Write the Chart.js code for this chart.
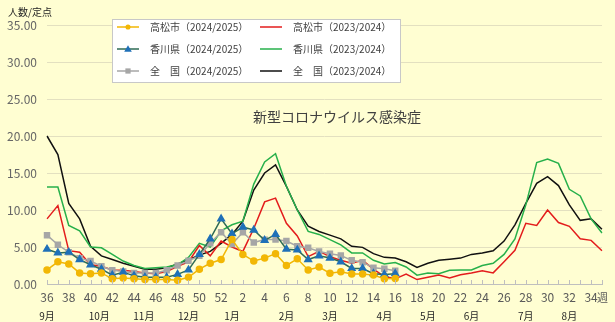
<!DOCTYPE html>
<html lang="ja">
<head>
<meta charset="utf-8">
<script src="https://cdn.jsdelivr.net/npm/chart.js@4.4.1/dist/chart.umd.min.js"></script>
<style>
  html, body { margin: 0; padding: 0; background: #fffed2; }
  #wrap { position: relative; width: 615px; height: 322px; }
</style>
</head>
<body>
<div id="wrap"><canvas id="chart-corona" width="615" height="322"></canvas></div>
<script>
// 週番号 (36週 ~ 翌年35週)
const weeks = [36, 37, 38, 39, 40, 41, 42, 43, 44, 45, 46, 47, 48, 49, 50, 51, 52,
  1, 2, 3, 4, 5, 6, 7, 8, 9, 10, 11, 12, 13, 14, 15, 16, 17, 18, 19, 20, 21, 22, 23, 24, 25,
  26, 27, 28, 29, 30, 31, 32, 33, 34, 35];

// 月ラベルと、その位置 (週のインデックス)
const months = ['9月', '10月', '11月', '12月', '1月', '2月', '3月', '4月', '5月', '6月', '7月', '8月'];
const monthPos = [0, 4.8, 8.9, 13, 17, 22, 26, 31, 35, 39, 44, 48];

const yTicks = [0, 5, 10, 15, 20, 25, 30, 35];

// 2024/2025 シーズン (16週まで)
const takamatsu2425 = [1.9, 3.0, 2.7, 1.5, 1.4, 1.5, 0.7, 0.8, 0.7, 0.6, 0.6, 0.6, 0.5, 0.9, 2.0, 2.8, 3.3,
  6.0, 4.0, 3.1, 3.5, 4.1, 2.5, 3.4, 1.9, 2.3, 1.45, 1.65, 1.35, 1.35, 1.2, 0.7, 0.75];
const kagawa2425 = [4.7, 4.2, 4.3, 3.3, 2.6, 2.0, 1.2, 1.6, 1.1, 0.9, 0.9, 0.9, 1.3, 1.9, 4.0, 6.1, 8.8,
  6.8, 7.7, 7.3, 5.9, 6.7, 4.7, 4.6, 3.3, 3.8, 3.5, 3.0, 2.1, 2.1, 1.4, 1.3, 1.4];
const zenkoku2425 = [6.6, 5.3, 4.3, 3.5, 3.1, 2.4, 1.85, 1.7, 1.5, 1.5, 1.5, 1.85, 2.5, 3.15, 3.8, 5.5, 7.0,
  5.4, 7.0, 5.6, 6.0, 6.0, 5.8, 5.1, 4.9, 4.4, 4.1, 3.85, 3.2, 2.95, 2.2, 2.05, 1.8];

// 2023/2024 シーズン
const takamatsu2324 = [8.8, 10.6, 4.5, 4.3, 2.6, 2.4, 1.9, 1.85, 1.7, 1.5, 1.4, 1.7, 2.4, 3.0, 5.2, 3.8, 5.8,
  5.0, 4.4, 7.5, 11.1, 11.6, 8.2, 6.5, 3.7, 4.4, 3.7, 3.2, 2.8, 3.2, 2.0, 1.0, 0.7, 1.35, 0.6, 0.9,
  1.2, 0.8, 1.25, 1.5, 1.8, 1.5, 3.0, 4.55, 8.2, 7.9, 10.0, 8.3, 7.8, 6.1, 5.9, 4.5];
const kagawa2324 = [13.1, 13.1, 7.9, 7.2, 5.0, 4.9, 4.0, 3.1, 2.5, 2.1, 2.2, 2.3, 2.6, 3.6, 5.5, 5.0, 7.2,
  8.0, 8.5, 13.5, 16.5, 17.6, 13.2, 10.0, 7.1, 6.7, 6.0, 5.3, 4.2, 4.2, 3.2, 2.7, 2.9, 2.3, 1.2, 1.5,
  1.4, 1.85, 1.9, 1.9, 2.5, 2.8, 4.0, 6.1, 10.7, 16.4, 16.9, 16.3, 12.8, 11.9, 8.8, 6.9];
const zenkoku2324 = [20.0, 17.5, 10.9, 8.8, 5.1, 3.8, 3.3, 2.8, 2.4, 2.0, 2.0, 2.2, 2.7, 3.3, 3.9, 4.4, 5.5,
  6.7, 8.5, 12.7, 15.0, 16.1, 13.2, 10.0, 7.8, 7.1, 6.6, 6.1, 5.1, 4.95, 4.1, 3.6, 3.5, 3.0, 2.25, 2.8,
  3.2, 3.35, 3.5, 4.0, 4.2, 4.5, 5.8, 8.0, 10.9, 13.6, 14.5, 13.3, 10.7, 8.6, 8.8, 7.4];

const FONT = '"Noto Sans CJK JP", "Noto Sans", sans-serif';

// 凡例・タイトル・月ラベルなどをキャンバスに直接描く
const decorPlugin = {
  id: 'decor',
  afterDraw(chart) {
    const ctx = chart.ctx;
    const x = chart.scales.x;
    const y = chart.scales.y;
    const bottom = y.getPixelForValue(0);
    ctx.save();

    // 内向きの目盛り
    ctx.strokeStyle = '#bfbfbf';
    ctx.lineWidth = 1;
    weeks.forEach((w, i) => {
      const px = Math.round(x.getPixelForValue(i)) + 0.5;
      ctx.beginPath();
      ctx.moveTo(px, bottom);
      ctx.lineTo(px, bottom - 4);
      ctx.stroke();
    });

    // 週の単位
    ctx.fillStyle = '#595959';
    ctx.font = '11px ' + FONT;
    ctx.textAlign = 'left';
    ctx.textBaseline = 'middle';
    ctx.fillText('週', x.getPixelForValue(50) + 6, 298);

    // 月ラベル
    ctx.fillStyle = '#262626';
    ctx.font = '10px ' + FONT;
    ctx.textAlign = 'center';
    months.forEach((m, i) => {
      ctx.fillText(m, x.getPixelForValue(monthPos[i]), 316);
    });

    // 縦軸の単位
    ctx.textAlign = 'left';
    ctx.fillStyle = '#262626';
    ctx.fillText('人数/定点', 8, 12);

    // タイトル
    ctx.textAlign = 'center';
    ctx.fillStyle = '#404040';
    ctx.font = '14px ' + FONT;
    ctx.fillText('新型コロナウイルス感染症', 337, 117);

    // 凡例
    const bx = 112, by = 19, bw = 288, bh = 63;
    ctx.fillStyle = '#ffffff';
    ctx.fillRect(bx, by, bw, bh);
    ctx.strokeStyle = '#c8c8c8';
    ctx.strokeRect(bx + 0.5, by + 0.5, bw, bh);
    ctx.font = '10px ' + FONT;
    ctx.textAlign = 'left';
    chart.data.datasets.forEach((ds, i) => {
      const col = Math.floor(i / 3);
      const row = i % 3;
      const lx = col === 0 ? 117 : 260;
      const ly = 27 + row * 22;
      ctx.strokeStyle = ds.borderColor;
      ctx.lineWidth = 1.5;
      ctx.beginPath();
      ctx.moveTo(lx, ly);
      ctx.lineTo(lx + 22, ly);
      ctx.stroke();
      if (ds.pointRadius > 0) {
        const cx = lx + 11;
        const r = ds.pointRadius;
        ctx.fillStyle = ds.pointBackgroundColor;
        ctx.beginPath();
        if (ds.pointStyle === 'circle') {
          ctx.arc(cx, ly, r * 0.85, 0, Math.PI * 2);
        } else if (ds.pointStyle === 'triangle') {
          ctx.moveTo(cx, ly - r);
          ctx.lineTo(cx + r, ly + r * 0.7);
          ctx.lineTo(cx - r, ly + r * 0.7);
          ctx.closePath();
        } else {
          ctx.rect(cx - r * 0.75, ly - r * 0.75, r * 1.5, r * 1.5);
        }
        ctx.fill();
      }
      ctx.fillStyle = '#404040';
      ctx.fillText(ds.label, lx + 33, ly);
    });

    ctx.restore();
  }
};

const ctx = document.getElementById('chart-corona').getContext('2d');
new Chart(ctx, {
  type: 'line',
  data: {
    labels: weeks,
    datasets: [
      {
        label: '高松市（2024/2025）',
        data: takamatsu2425,
        borderColor: '#f2b705',
        backgroundColor: '#f2b705',
        pointBackgroundColor: '#f2b705',
        pointBorderColor: '#f2b705',
        pointStyle: 'circle',
        pointRadius: 3,
        borderWidth: 1.5
      },
      {
        label: '香川県（2024/2025）',
        data: kagawa2425,
        borderColor: '#2f6b55',
        backgroundColor: '#1f70b8',
        pointBackgroundColor: '#1f70b8',
        pointBorderColor: '#1f70b8',
        pointStyle: 'triangle',
        pointRadius: 3.8,
        borderWidth: 1.5
      },
      {
        label: '全　国（2024/2025）',
        data: zenkoku2425,
        borderColor: '#a6a6a6',
        backgroundColor: '#a6a6a6',
        pointBackgroundColor: '#a6a6a6',
        pointBorderColor: '#a6a6a6',
        pointStyle: 'rect',
        pointRadius: 3.5,
        borderWidth: 1.5
      },
      {
        label: '高松市（2023/2024）',
        data: takamatsu2324,
        borderColor: '#e31c1c',
        pointRadius: 0,
        borderWidth: 1.5
      },
      {
        label: '香川県（2023/2024）',
        data: kagawa2324,
        borderColor: '#27b04b',
        pointRadius: 0,
        borderWidth: 1.5
      },
      {
        label: '全　国（2023/2024）',
        data: zenkoku2324,
        borderColor: '#111111',
        pointRadius: 0,
        borderWidth: 1.5
      }
    ]
  },
  options: {
    responsive: false,
    animation: false,
    layout: { padding: { left: 0, right: 13, top: 25, bottom: 0 } },
    plugins: {
      legend: { display: false },
      tooltip: { enabled: false }
    },
    elements: { line: { tension: 0 } },
    scales: {
      x: {
        grid: { drawOnChartArea: false, drawTicks: false },
        border: { display: true, color: '#bfbfbf' },
        ticks: {
          autoSkip: false,
          maxRotation: 0,
          padding: 6,
          color: '#595959',
          font: { family: FONT, size: 12 },
          callback: (v, i) => (i % 2 === 0 ? String(weeks[i]) : '')
        },
        afterFit: (scale) => { scale.height = 38; }
      },
      y: {
        min: 0,
        max: 35,
        afterBuildTicks: (scale) => { scale.ticks = yTicks.map(v => ({ value: v })); },
        grid: { color: '#e3e0c0', drawTicks: false },
        border: { display: false },
        ticks: {
          padding: 10,
          color: '#666666',
          font: { family: FONT, size: 12 },
          callback: (v) => Number(v).toFixed(2)
        },
        afterFit: (scale) => { scale.width = 47; }
      }
    }
  },
  plugins: [decorPlugin]
});
</script>
</body>
</html>
